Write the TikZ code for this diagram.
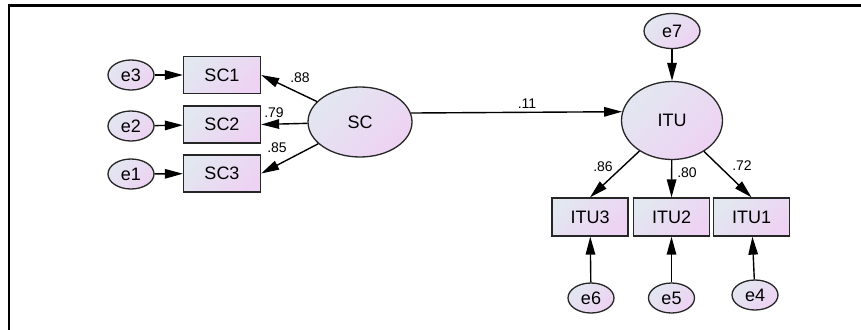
\documentclass[tikz,border=0pt]{standalone}
\usepackage{fontspec}
\setmainfont{Liberation Sans}
\usetikzlibrary{arrows.meta,shapes.geometric}
\definecolor{shadeA}{RGB}{226,231,240}
\definecolor{shadeB}{RGB}{238,210,243}
\begin{document}
\begin{tikzpicture}[x=1pt,y=-1pt,
  every node/.style={font=\fontsize{18}{21}\selectfont, inner sep=0pt},
  filled/.style={draw=black!85, line width=1.3pt, top color=shadeA, bottom color=shadeB, shading angle=45},
  obs/.style={filled, rectangle, minimum width=77pt, minimum height=37pt},
  lat/.style={filled, ellipse},
  err/.style={filled, ellipse, minimum width=46pt, minimum height=30pt},
  link/.style={line width=1.4pt, -{Triangle[length=18pt,width=9.5pt]}},
  coef/.style={font=\fontsize{14}{16}\selectfont}
]
\useasboundingbox (0,0) rectangle (861,329);

% frame (only the top and left edges are inside the picture)
\coordinate (fbl) at (9,330);
\coordinate (ftl) at (9,5.5);
\coordinate (ftr) at (862,5.5);
\draw[line width=2.3pt] (fbl) -- (ftl) -- (ftr);

% SC measurement model
\node[err] (e3) at (131,75) {e3};
\node[err] (e2) at (131,126) {e2};
\node[err] (e1) at (131,174) {e1};
\node[obs] (SC1) at (222,75) {SC1};
\node[obs] (SC2) at (222,124.5) {SC2};
\node[obs] (SC3) at (222,173.5) {SC3};
\node[lat, minimum width=104pt, minimum height=70pt] (SC) at (360,122) {SC};

% ITU measurement model
\node[lat, minimum width=101pt, minimum height=78pt] (ITU) at (672,120.5) {ITU};
\node[err, minimum width=56pt, minimum height=35pt] (e7) at (672,31) {e7};
\node[obs, minimum width=76pt, minimum height=38pt] (ITU3) at (590,217) {ITU3};
\node[obs, minimum width=76pt, minimum height=38pt] (ITU2) at (671.5,217) {ITU2};
\node[obs, minimum width=76pt, minimum height=38pt] (ITU1) at (751.5,217) {ITU1};
\node[err] (e6) at (591,298) {e6};
\node[err] (e5) at (671.5,298) {e5};
\node[err] (e4) at (755,295) {e4};

% error terms
\draw[link] (e3) -- (SC1);
\draw[link] (e2) -- (SC2);
\draw[link] (e1) -- (SC3);
\draw[link] (e7) -- (ITU);
\draw[link] (e6) -- (ITU3);
\draw[link] (e5) -- (ITU2);
\draw[link] (e4) -- (ITU1);

% loadings and structural path
\draw[link] (SC) -- (SC1.east);
\draw[link] (SC) -- (SC2.east);
\draw[link] (SC) -- (SC3.east);
\draw[link] (SC.10) -- (ITU.170);
\draw[link] (ITU) -- (ITU3.north);
\draw[link] (ITU) -- (ITU2.north);
\draw[link] (ITU) -- (ITU1.north);

% coefficients
\node[coef] (c88) at (300,78) {.88};
\node[coef] (c79) at (274,113) {.79};
\node[coef] (c85) at (277,148) {.85};
\node[coef] (c11) at (527,104) {.11};
\node[coef] (c86) at (603,167) {.86};
\node[coef] (c80) at (687,173) {.80};
\node[coef] (c72) at (742,166) {.72};
\end{tikzpicture}
\end{document}
